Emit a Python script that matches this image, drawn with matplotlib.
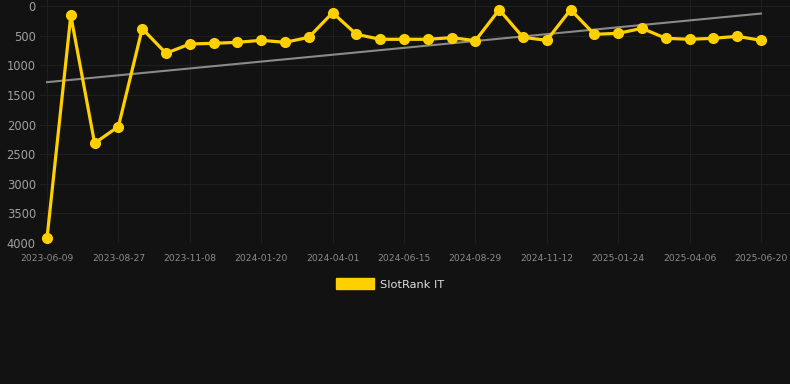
"""SlotRank IT chart"""
import matplotlib
matplotlib.use("Agg")
import matplotlib.pyplot as plt
from matplotlib.patches import Patch
import numpy as np

dates = [
    "2023-06-09", "2023-07-05", "2023-08-01", "2023-08-27", "2023-09-21",
    "2023-10-15", "2023-11-08", "2023-12-02", "2023-12-26", "2024-01-20",
    "2024-02-13", "2024-03-08", "2024-04-01", "2024-04-26", "2024-05-21",
    "2024-06-15", "2024-07-10", "2024-08-04", "2024-08-29", "2024-09-23",
    "2024-10-18", "2024-11-12", "2024-12-06", "2024-12-30", "2025-01-24",
    "2025-02-17", "2025-03-13", "2025-04-06", "2025-05-01", "2025-05-26",
    "2025-06-20",
]
ranks = [
    3920, 160, 2315, 2035, 382, 798, 641, 630, 613, 579,
    613, 529, 113, 478, 562, 562, 562, 534, 585, 62,
    529, 579, 62, 478, 461, 377, 545, 562, 545, 512,
    579,
]
y_ticks = [0, 500, 1000, 1500, 2000, 2500, 3000, 3500, 4000]
tick_step = 3
series_name = "SlotRank IT"

BG = "#121212"
YELLOW = "#FFD000"

y = np.array(ranks)
idx = np.arange(len(y))

# линия тренда (линейная регрессия)
k, b = np.polyfit(idx, y, 1)
trend = k * idx + b

fig = plt.figure(figsize=(7.9, 3.84), dpi=100, facecolor=BG)
ax = fig.add_axes([40 / 790, 1 - 243 / 384, 1 - 40 / 790, 243 / 384])
ax.set_facecolor(BG)

ax.plot(idx, trend, color="#8a8a8a", linewidth=1.5, zorder=2)
ax.plot(idx, y, color=YELLOW, linewidth=2.3, marker="o", markersize=7,
        solid_joinstyle="miter", zorder=3, clip_on=False)

ppi = 714 / (len(y) - 1)  # пикселей на точку
ax.set_xlim(-7 / ppi, len(y) - 1 + 29 / ppi)
ax.set_ylim(4000, -4000 * 6 / 237)

ax.set_xticks(idx[::tick_step])
ax.set_xticklabels(dates[::tick_step])
ax.set_yticks(y_ticks)
ax.tick_params(axis="x", length=0, pad=8, labelsize=6.6, labelcolor="#8c8c8c")
ax.tick_params(axis="y", length=0, pad=3, labelsize=8.3, labelcolor="#a0a0a0")

ax.grid(True, color="#1f1f1f", linewidth=0.8)
for s in ax.spines.values():
    s.set_visible(False)

handle = Patch(facecolor=YELLOW, edgecolor=YELLOW)
leg = fig.legend([handle], [series_name], loc="center", bbox_to_anchor=(0.494, 0.26),
                 frameon=False, fontsize=8.2, handlelength=3.3, handleheight=1.1,
                 handletextpad=0.6)
for t in leg.get_texts():
    t.set_color("#dddddd")

fig.savefig("out.png", dpi=100, facecolor=BG)
